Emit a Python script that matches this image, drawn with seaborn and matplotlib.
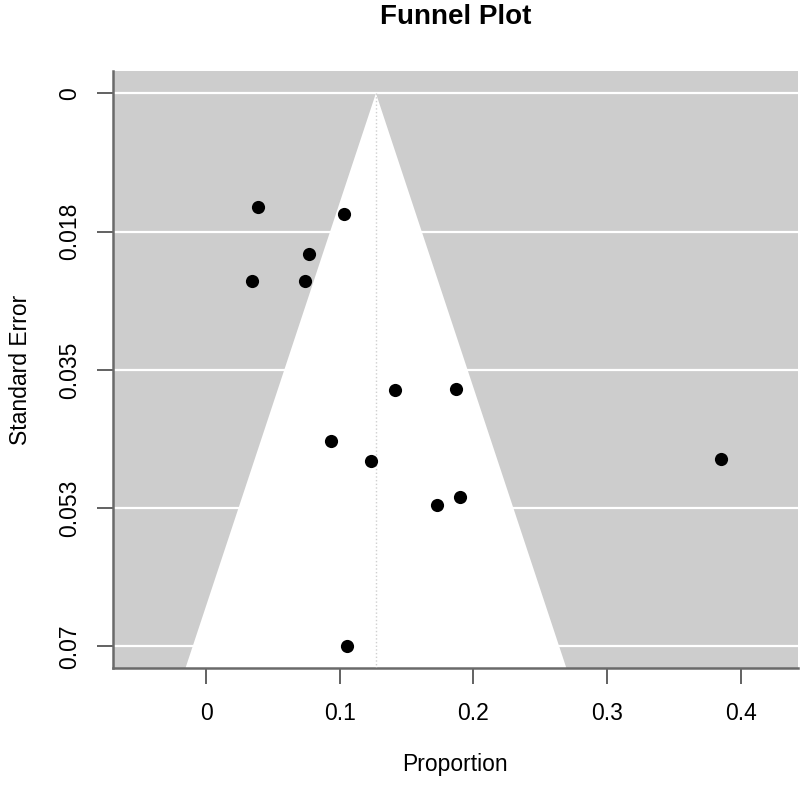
import matplotlib
matplotlib.use("Agg")
import matplotlib.pyplot as plt
import seaborn as sns
import numpy as np
import pandas as pd

# study proportions and their standard errors
proportion = [0.039, 0.103, 0.077, 0.034, 0.074, 0.141, 0.187, 0.093, 0.123, 0.173, 0.190, 0.105, 0.385]
std_error = [0.0144, 0.0153, 0.0203, 0.0238, 0.0237, 0.0375, 0.0374, 0.0440, 0.0465, 0.0521, 0.0511, 0.0700, 0.0463]
pooled = 0.127

y_ticks = [0, 0.0175, 0.035, 0.0525, 0.07]
y_labels = ["0", "0.018", "0.035", "0.053", "0.07"]
x_ticks = [0, 0.1, 0.2, 0.3, 0.4]
x_labels = ["0", "0.1", "0.2", "0.3", "0.4"]

df = pd.DataFrame({"prop": proportion, "se": std_error})

sns.set_style("ticks")
plt.rcParams["font.family"] = ["Liberation Sans", "DejaVu Sans"]
plt.rcParams["text.color"] = "black"
plt.rcParams["axes.labelcolor"] = "black"

fig = plt.figure(figsize=(8, 7.86), dpi=100)
ax = fig.add_axes([0.141, 0.150, 0.8565, 0.7597])

xlim = (-0.07, 0.443)
ylim = (0.07275, -0.00282)
ax.set_xlim(xlim)
ax.set_ylim(ylim)
ax.set_facecolor("#cdcdcd")

# white reference lines
for yt in y_ticks:
    ax.axhline(yt, color="white", lw=1.6, zorder=1)

# pseudo confidence region
se_max = ylim[0]
ax.fill([pooled - 1.96 * se_max, pooled, pooled + 1.96 * se_max],
        [se_max, 0, se_max], color="white", lw=0, zorder=2)
ax.plot([pooled, pooled], [0, se_max], color="#cfcfcf", lw=1, ls=":", zorder=3)

sns.scatterplot(data=df, x="prop", y="se", ax=ax, color="black", s=90,
                edgecolor="black", linewidth=0, zorder=4)

ax.set_xticks(x_ticks)
ax.set_xticklabels(x_labels)
ax.set_yticks(y_ticks)
ax.set_yticklabels(y_labels, rotation=90, va="center")
ax.tick_params(axis="both", length=11.5, width=1.3, color="#555555",
               labelsize=16.5, labelcolor="black")
ax.tick_params(axis="x", pad=13)
ax.tick_params(axis="y", pad=11)

for s in ["top", "right"]:
    ax.spines[s].set_visible(False)
for s in ["left", "bottom"]:
    ax.spines[s].set_color("#6a6a6a")
    ax.spines[s].set_linewidth(1.8)

ax.set_xlabel("Proportion", fontsize=16.5, labelpad=20)
ax.set_ylabel("Standard Error", fontsize=16.5, labelpad=19)
ax.set_title("Funnel Plot", fontsize=20, fontweight="bold", pad=34)

fig.savefig("out.png", dpi=100)
